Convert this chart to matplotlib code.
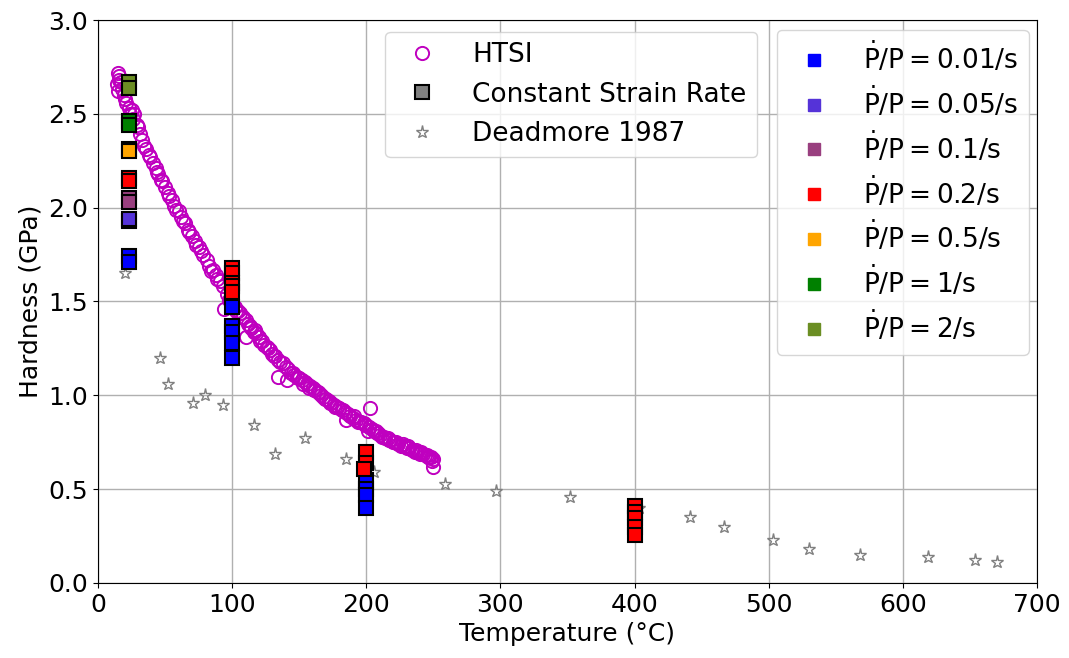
import matplotlib
matplotlib.use("Agg")
import matplotlib.pyplot as plt
from matplotlib.lines import Line2D

plt.rcParams['font.size'] = 18
plt.rcParams['mathtext.default'] = 'regular'

# HTSI hardness vs temperature
htsi_T = [14, 15, 15, 16, 17, 19, 21, 23, 25, 27, 29, 31, 33, 36, 38, 41, 43, 45, 47, 50,
          52, 55, 57, 60, 62, 65, 67, 70, 72, 75, 78, 81, 83, 86, 88, 91, 93, 96, 98, 100,
          102, 104, 106, 108, 110, 112, 114, 116, 118, 120, 122, 124, 126, 128, 130, 132, 134, 136, 138, 140,
          142, 144, 146, 148, 150, 152, 154, 156, 158, 160, 162, 164, 166, 168, 170, 172, 174, 176, 178, 180,
          182, 184, 186, 188, 190, 192, 194, 196, 198, 200, 202, 204, 206, 208, 210, 212, 214, 216, 218, 220,
          222, 224, 226, 228, 230, 232, 234, 236, 238, 240, 242, 244, 246, 248, 250,
          16, 20, 26, 34, 44, 53, 63, 73, 84, 94, 99, 107, 110, 117, 127, 134, 141, 149, 157, 165,
          173, 185, 191, 201, 203, 209, 217, 227, 237, 245, 250, 249,
          18, 24, 30, 39, 48, 58, 68, 77, 89, 103, 113, 121, 131, 145, 153, 161, 169, 177, 183, 195,
          199, 207, 213, 221, 231, 241, 247]
htsi_H = [2.66, 2.72, 2.62, 2.70, 2.67, 2.60, 2.56, 2.53, 2.52, 2.50, 2.44, 2.39, 2.36, 2.31, 2.28, 2.24, 2.21, 2.18, 2.15, 2.11,
          2.08, 2.04, 2.01, 1.98, 1.95, 1.92, 1.88, 1.85, 1.82, 1.79, 1.75, 1.72, 1.69, 1.67, 1.64, 1.61, 1.58, 1.54, 1.51, 1.48,
          1.47, 1.45, 1.44, 1.42, 1.40, 1.38, 1.36, 1.34, 1.33, 1.31, 1.29, 1.27, 1.26, 1.24, 1.22, 1.21, 1.19, 1.18, 1.17, 1.15,
          1.14, 1.12, 1.11, 1.10, 1.09, 1.08, 1.07, 1.06, 1.05, 1.04, 1.03, 1.02, 1.00, 0.99, 0.98, 0.97, 0.96, 0.95, 0.94, 0.93,
          0.92, 0.91, 0.90, 0.89, 0.88, 0.87, 0.86, 0.86, 0.85, 0.84, 0.83, 0.82, 0.81, 0.80, 0.79, 0.78, 0.77, 0.77, 0.76, 0.75,
          0.75, 0.74, 0.73, 0.73, 0.72, 0.72, 0.71, 0.70, 0.70, 0.69, 0.69, 0.68, 0.67, 0.67, 0.66,
          2.68, 2.58, 2.47, 2.33, 2.19, 2.06, 1.93, 1.80, 1.66, 1.46, 1.50, 1.42, 1.31, 1.35, 1.25, 1.10, 1.08, 1.09, 1.04, 1.01,
          0.96, 0.87, 0.89, 0.81, 0.93, 0.80, 0.76, 0.74, 0.71, 0.68, 0.62, 0.65,
          2.63, 2.50, 2.43, 2.27, 2.14, 1.99, 1.87, 1.77, 1.62, 1.45, 1.37, 1.29, 1.21, 1.12, 1.06, 1.03, 0.98, 0.94, 0.92, 0.86,
          0.84, 0.81, 0.78, 0.75, 0.73, 0.70, 0.67]

# Deadmore 1987
dm_T = [20, 46, 52, 71, 80, 93, 116, 132, 154, 185, 206, 259, 297, 352, 403, 441, 467, 503, 530, 568, 619, 654, 670]
dm_H = [1.65, 1.20, 1.06, 0.96, 1.00, 0.95, 0.84, 0.69, 0.77, 0.66, 0.59, 0.53, 0.49, 0.46, 0.40, 0.35, 0.30, 0.23, 0.18, 0.15, 0.14, 0.12, 0.11]

# constant strain rate tests, by loading rate
rate_labels = ['0.01', '0.05', '0.1', '0.2', '0.5', '1', '2']
rate_colors = ['#0000ff', '#5533d8', '#993f7f', '#ff0000', '#ffa500', '#008000', '#6b8e23']
csr_T = [
    [23, 23, 100, 100, 100, 100, 100, 200, 200, 200, 200],
    [23, 23],
    [23, 23],
    [23, 23, 100, 100, 100, 100, 100, 200, 200, 198, 400, 400, 400, 400, 400],
    [23, 23],
    [23, 23],
    [23, 23],
]
csr_H = [
    [1.74, 1.71, 1.47, 1.37, 1.34, 1.28, 1.20, 0.55, 0.50, 0.47, 0.40],
    [1.93, 1.94],
    [2.05, 2.03],
    [2.16, 2.14, 1.68, 1.65, 1.60, 1.58, 1.55, 0.70, 0.64, 0.61, 0.41, 0.38, 0.345, 0.30, 0.255],
    [2.31, 2.30],
    [2.46, 2.44],
    [2.67, 2.64],
]

fig = plt.figure(figsize=(10.69, 6.58), dpi=100)
ax = fig.add_axes([0.0917, 0.114, 0.8783, 0.8556])

ax.plot(htsi_T, htsi_H, 'o', ls='none', mfc='none', mec='m', ms=9.5, mew=1.4, zorder=3)
ax.plot(dm_T, dm_H, '*', ls='none', mfc='none', mec='gray', ms=9.5, mew=1.0, zorder=2)
for T, H, c in zip(csr_T, csr_H, rate_colors):
    ax.plot(T, H, 's', ls='none', mfc=c, mec='black', ms=10, mew=1.5, zorder=4)

ax.set_xlim(0, 700)
ax.set_ylim(0, 3.0)
ax.set_xlabel('Temperature (°C)')
ax.set_ylabel('Hardness (GPa)')
ax.grid(True, color='#b0b0b0', lw=1)
ax.set_axisbelow(True)

h1 = [Line2D([], [], marker='o', ls='none', mfc='none', mec='m', ms=9.5, mew=1.4),
      Line2D([], [], marker='s', ls='none', mfc='gray', mec='black', ms=10, mew=1.5),
      Line2D([], [], marker='*', ls='none', mfc='none', mec='gray', ms=9.5, mew=1.0)]
leg1 = ax.legend(h1, ['HTSI', 'Constant Strain Rate', 'Deadmore 1987'], fontsize=19,
                 loc='upper left', bbox_to_anchor=(0.306, 0.979), borderaxespad=0,
                 handletextpad=0.9, labelspacing=0.5)
ax.add_artist(leg1)

h2 = [Line2D([], [], marker='s', ls='none', mfc=c, mec=c, ms=8) for c in rate_colors]
l2 = [r'$\dot{P}/P = %s/s$' % r for r in rate_labels]
ax.legend(h2, l2, fontsize=19, loc='upper left', bbox_to_anchor=(0.723, 0.982), borderaxespad=0,
          handletextpad=0.86, labelspacing=0.4)

fig.savefig('out.png', dpi=100)
